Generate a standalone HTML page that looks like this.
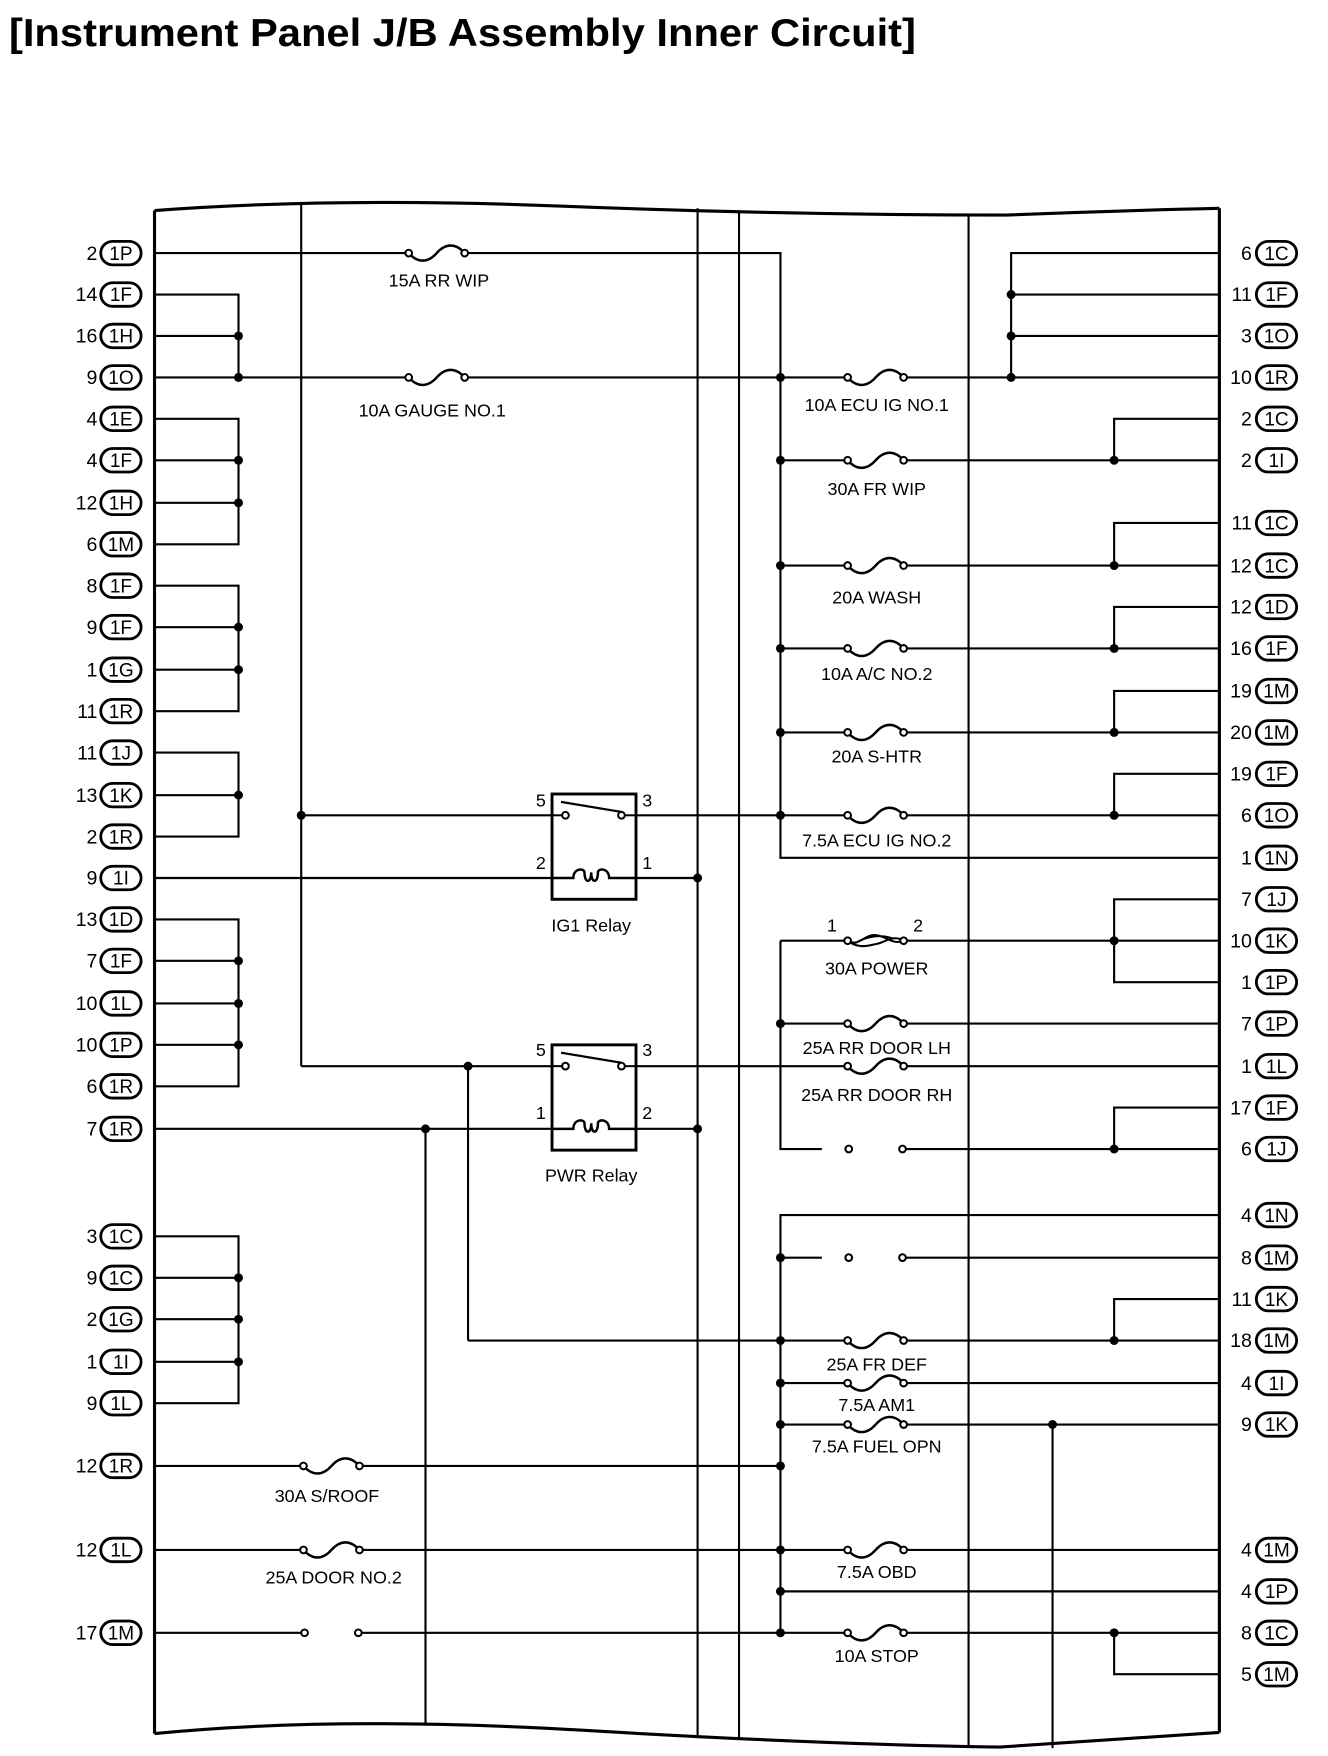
<!DOCTYPE html>
<html><head><meta charset="utf-8"><style>
html,body{margin:0;padding:0;background:#fff;}
svg{display:block;}
text{font-family:"Liberation Sans",sans-serif;fill:#000;}
.n{font-size:17.5px;text-anchor:end;}
.o{font-size:17px;text-anchor:middle;}
.l{font-size:16px;text-anchor:middle;}
</style></head><body>
<svg width="1328" height="1756" viewBox="0 0 1186 1568" preserveAspectRatio="none" xmlns="http://www.w3.org/2000/svg">
<defs>
<g id="fu"><rect x="-23" y="-3" width="46" height="6" fill="#fff"/><path d="M-25,0 C-17,9 -8,9 0,0 C8,-9 17,-9 25,0" fill="none" stroke="#000" stroke-width="2.2"/><circle cx="-25" cy="0" r="3" fill="#fff" stroke="#000" stroke-width="1.8"/><circle cx="25" cy="0" r="3" fill="#fff" stroke="#000" stroke-width="1.8"/></g>
<g id="fp"><rect x="-23" y="-4" width="46" height="8" fill="#fff"/><path d="M-25,0 C-15,6 -10,-6 0,-5 C10,-4 15,4 25,0 M-25,0 C-15,8 -5,4 0,3 C8,2 15,-6 25,0 M-18,2 C-8,-4 5,-6 15,-2" fill="none" stroke="#000" stroke-width="1.8"/><circle cx="-25" cy="0" r="3" fill="#fff" stroke="#000" stroke-width="1.8"/><circle cx="25" cy="0" r="3" fill="#fff" stroke="#000" stroke-width="1.8"/></g>
<g id="oc"><circle cx="-24" cy="0" r="3" fill="#fff" stroke="#000" stroke-width="1.8"/><circle cx="24" cy="0" r="3" fill="#fff" stroke="#000" stroke-width="1.8"/></g>
<g id="ov"><rect x="-18" y="-10.5" width="36" height="21" rx="10.5" fill="#fff" stroke="#000" stroke-width="2.5"/></g>
<g id="relay"><rect x="493" y="0" width="75" height="94" fill="#fff" stroke="#000" stroke-width="2.6"/>
<line x1="493" y1="19" x2="502" y2="19" stroke="#000" stroke-width="1.8"/><line x1="558" y1="19" x2="568" y2="19" stroke="#000" stroke-width="1.8"/>
<line x1="501" y1="7" x2="555" y2="16" stroke="#000" stroke-width="2"/>
<circle cx="505" cy="19" r="3" fill="#fff" stroke="#000" stroke-width="1.8"/><circle cx="555" cy="19" r="3" fill="#fff" stroke="#000" stroke-width="1.8"/>
<path d="M493,75 H512 C512,66 522,66 522,70 C522,80 528,80 528,70 C528,80 534,80 534,70 C534,66 544,66 544,75 H568" fill="none" stroke="#000" stroke-width="2.2"/></g>
</defs>
<rect width="1186" height="1568" fill="#fff"/>
<text x="8" y="41" font-size="35" font-weight="bold" textLength="810" lengthAdjust="spacingAndGlyphs">[Instrument Panel J/B Assembly Inner Circuit]</text>

<g stroke="#000" stroke-width="1.9" fill="none">
<path d="M138,188 Q 300,176 500,184 T 900,192 Q1000,188 1089,186" stroke-width="2.8"/>
<path d="M138,1548 Q 300,1532 520,1545 T 893,1560 Q 1000,1553 1089,1547" stroke-width="2.8"/>
<line x1="138" y1="188" x2="138" y2="1548" stroke-width="2.8"/>
<line x1="1089" y1="186" x2="1089" y2="1547" stroke-width="2.8"/>
<line x1="269" y1="182" x2="269" y2="952"/>
<line x1="623" y1="186" x2="623" y2="1551"/>
<line x1="660" y1="188" x2="660" y2="1553"/>
<line x1="865" y1="191" x2="865" y2="1559"/>
<line x1="380" y1="1008" x2="380" y2="1540"/>
<line x1="418" y1="952" x2="418" y2="1197"/>
<line x1="940" y1="1272" x2="940" y2="1561"/>

<path d="M138,263 H213 V337"/><line x1="138" y1="300" x2="213" y2="300"/>
<path d="M138,374 H213 V486 H138"/><line x1="138" y1="411" x2="213" y2="411"/><line x1="138" y1="449" x2="213" y2="449"/>
<path d="M138,523 H213 V635 H138"/><line x1="138" y1="560" x2="213" y2="560"/><line x1="138" y1="598" x2="213" y2="598"/>
<path d="M138,672 H213 V747 H138"/><line x1="138" y1="710" x2="213" y2="710"/>
<path d="M138,821 H213 V970 H138"/><line x1="138" y1="858" x2="213" y2="858"/><line x1="138" y1="896" x2="213" y2="896"/><line x1="138" y1="933" x2="213" y2="933"/>
<path d="M138,1104 H213 V1253 H138"/><line x1="138" y1="1141" x2="213" y2="1141"/><line x1="138" y1="1178" x2="213" y2="1178"/><line x1="138" y1="1216" x2="213" y2="1216"/>

<path d="M138,226 H697 V766 H1089"/>
<line x1="138" y1="337" x2="1089" y2="337"/>
<line x1="269" y1="728" x2="493" y2="728"/><line x1="568" y1="728" x2="1089" y2="728"/>
<line x1="138" y1="784" x2="493" y2="784"/><line x1="568" y1="784" x2="623" y2="784"/>
<line x1="269" y1="952" x2="493" y2="952"/><line x1="568" y1="952" x2="1089" y2="952"/>
<line x1="138" y1="1008" x2="493" y2="1008"/><line x1="568" y1="1008" x2="623" y2="1008"/>
<line x1="697" y1="411" x2="1089" y2="411"/>
<line x1="697" y1="505" x2="1089" y2="505"/>
<line x1="697" y1="579" x2="1089" y2="579"/>
<line x1="697" y1="654" x2="1089" y2="654"/>
<path d="M1089,226 H903 V337"/><line x1="903" y1="263" x2="1089" y2="263"/><line x1="903" y1="300" x2="1089" y2="300"/>
<path d="M1089,374 H995 V411"/>
<path d="M1089,467 H995 V505"/>
<path d="M1089,542 H995 V579"/>
<path d="M1089,617 H995 V654"/>
<path d="M1089,691 H995 V728"/>
<path d="M1089,803 H995 V877 H1089"/><line x1="697" y1="840" x2="1089" y2="840"/>
<path d="M1089,989 H995 V1026"/>
<path d="M1089,1160 H995 V1197"/>
<path d="M1089,1495 H995 V1458"/>
<path d="M697,840 V1026 H734"/><line x1="806" y1="1026" x2="1089" y2="1026"/>
<line x1="697" y1="914" x2="1089" y2="914"/>
<path d="M1089,1085 H697 V1458"/>
<line x1="697" y1="1123" x2="734" y2="1123"/><line x1="806" y1="1123" x2="1089" y2="1123"/>
<path d="M418,1197 H1089"/>
<line x1="697" y1="1235" x2="1089" y2="1235"/>
<line x1="697" y1="1272" x2="1089" y2="1272"/>
<line x1="138" y1="1309" x2="697" y2="1309"/>
<line x1="138" y1="1384" x2="1089" y2="1384"/>
<line x1="697" y1="1421" x2="1089" y2="1421"/>
<line x1="138" y1="1458" x2="270" y2="1458"/><line x1="322" y1="1458" x2="1089" y2="1458"/>
</g>

<use href="#relay" y="709"/>
<use href="#relay" y="933"/>

<use href="#fu" x="390" y="226"/>
<use href="#fu" x="390" y="337"/>
<use href="#fu" x="782" y="337"/>
<use href="#fu" x="782" y="411"/>
<use href="#fu" x="782" y="505"/>
<use href="#fu" x="782" y="579"/>
<use href="#fu" x="782" y="654"/>
<use href="#fu" x="782" y="728"/>
<use href="#fp" x="782" y="840"/>
<use href="#fu" x="782" y="914"/>
<use href="#fu" x="782" y="952"/>
<use href="#oc" x="782" y="1026"/>
<use href="#oc" x="782" y="1123"/>
<use href="#fu" x="782" y="1197"/>
<use href="#fu" x="782" y="1235"/>
<use href="#fu" x="782" y="1272"/>
<use href="#fu" x="296" y="1309"/>
<use href="#fu" x="296" y="1384"/>
<use href="#fu" x="782" y="1384"/>
<use href="#oc" x="296" y="1458"/>
<use href="#fu" x="782" y="1458"/>

<g fill="#000">
<circle cx="213" cy="300" r="4"/><circle cx="213" cy="337" r="4"/>
<circle cx="213" cy="411" r="4"/><circle cx="213" cy="449" r="4"/>
<circle cx="213" cy="560" r="4"/><circle cx="213" cy="598" r="4"/>
<circle cx="213" cy="710" r="4"/>
<circle cx="213" cy="858" r="4"/><circle cx="213" cy="896" r="4"/><circle cx="213" cy="933" r="4"/>
<circle cx="213" cy="1141" r="4"/><circle cx="213" cy="1178" r="4"/><circle cx="213" cy="1216" r="4"/>
<circle cx="269" cy="728" r="4"/><circle cx="623" cy="784" r="4"/><circle cx="623" cy="1008" r="4"/>
<circle cx="418" cy="952" r="4"/><circle cx="380" cy="1008" r="4"/>
<circle cx="697" cy="337" r="4"/><circle cx="697" cy="411" r="4"/><circle cx="697" cy="505" r="4"/><circle cx="697" cy="579" r="4"/><circle cx="697" cy="654" r="4"/><circle cx="697" cy="728" r="4"/>
<circle cx="697" cy="914" r="4"/>
<circle cx="697" cy="1123" r="4"/><circle cx="697" cy="1197" r="4"/><circle cx="697" cy="1235" r="4"/><circle cx="697" cy="1272" r="4"/><circle cx="697" cy="1309" r="4"/><circle cx="697" cy="1384" r="4"/><circle cx="697" cy="1421" r="4"/><circle cx="697" cy="1458" r="4"/>
<circle cx="903" cy="263" r="4"/><circle cx="903" cy="300" r="4"/><circle cx="903" cy="337" r="4"/>
<circle cx="995" cy="411" r="4"/><circle cx="995" cy="505" r="4"/><circle cx="995" cy="579" r="4"/><circle cx="995" cy="654" r="4"/><circle cx="995" cy="728" r="4"/>
<circle cx="995" cy="840" r="4"/><circle cx="995" cy="1026" r="4"/><circle cx="995" cy="1197" r="4"/><circle cx="995" cy="1458" r="4"/>
<circle cx="940" cy="1272" r="4"/>
</g>

<g>
<text class="l" x="392" y="256">15A RR WIP</text>
<text class="l" x="386" y="372">10A GAUGE NO.1</text>
<text class="l" x="783" y="367">10A ECU IG NO.1</text>
<text class="l" x="783" y="442">30A FR WIP</text>
<text class="l" x="783" y="539">20A WASH</text>
<text class="l" x="783" y="607">10A A/C NO.2</text>
<text class="l" x="783" y="681">20A S-HTR</text>
<text class="l" x="783" y="756">7.5A ECU IG NO.2</text>
<text class="l" x="783" y="870">30A POWER</text>
<text class="l" x="743" y="832">1</text><text class="l" x="820" y="832">2</text>
<text class="l" x="783" y="941">25A RR DOOR LH</text>
<text class="l" x="783" y="983">25A RR DOOR RH</text>
<text class="l" x="783" y="1224">25A FR DEF</text>
<text class="l" x="783" y="1260">7.5A AM1</text>
<text class="l" x="783" y="1297">7.5A FUEL OPN</text>
<text class="l" x="783" y="1409">7.5A OBD</text>
<text class="l" x="783" y="1484">10A STOP</text>
<text class="l" x="292" y="1341">30A S/ROOF</text>
<text class="l" x="298" y="1414">25A DOOR NO.2</text>
<text class="l" x="528" y="832">IG1 Relay</text>
<text class="l" x="528" y="1055">PWR Relay</text>
<text class="l" x="483" y="720">5</text><text class="l" x="578" y="720">3</text>
<text class="l" x="483" y="776">2</text><text class="l" x="578" y="776">1</text>
<text class="l" x="483" y="943">5</text><text class="l" x="578" y="943">3</text>
<text class="l" x="483" y="999">1</text><text class="l" x="578" y="999">2</text>
</g>

<g>
<use href="#ov" x="108" y="226"/><text class="n" x="87" y="232">2</text><text class="o" x="108" y="232">1P</text>
<use href="#ov" x="108" y="263"/><text class="n" x="87" y="269">14</text><text class="o" x="108" y="269">1F</text>
<use href="#ov" x="108" y="300"/><text class="n" x="87" y="306">16</text><text class="o" x="108" y="306">1H</text>
<use href="#ov" x="108" y="337"/><text class="n" x="87" y="343">9</text><text class="o" x="108" y="343">1O</text>
<use href="#ov" x="108" y="374"/><text class="n" x="87" y="380">4</text><text class="o" x="108" y="380">1E</text>
<use href="#ov" x="108" y="411"/><text class="n" x="87" y="417">4</text><text class="o" x="108" y="417">1F</text>
<use href="#ov" x="108" y="449"/><text class="n" x="87" y="455">12</text><text class="o" x="108" y="455">1H</text>
<use href="#ov" x="108" y="486"/><text class="n" x="87" y="492">6</text><text class="o" x="108" y="492">1M</text>
<use href="#ov" x="108" y="523"/><text class="n" x="87" y="529">8</text><text class="o" x="108" y="529">1F</text>
<use href="#ov" x="108" y="560"/><text class="n" x="87" y="566">9</text><text class="o" x="108" y="566">1F</text>
<use href="#ov" x="108" y="598"/><text class="n" x="87" y="604">1</text><text class="o" x="108" y="604">1G</text>
<use href="#ov" x="108" y="635"/><text class="n" x="87" y="641">11</text><text class="o" x="108" y="641">1R</text>
<use href="#ov" x="108" y="672"/><text class="n" x="87" y="678">11</text><text class="o" x="108" y="678">1J</text>
<use href="#ov" x="108" y="710"/><text class="n" x="87" y="716">13</text><text class="o" x="108" y="716">1K</text>
<use href="#ov" x="108" y="747"/><text class="n" x="87" y="753">2</text><text class="o" x="108" y="753">1R</text>
<use href="#ov" x="108" y="784"/><text class="n" x="87" y="790">9</text><text class="o" x="108" y="790">1I</text>
<use href="#ov" x="108" y="821"/><text class="n" x="87" y="827">13</text><text class="o" x="108" y="827">1D</text>
<use href="#ov" x="108" y="858"/><text class="n" x="87" y="864">7</text><text class="o" x="108" y="864">1F</text>
<use href="#ov" x="108" y="896"/><text class="n" x="87" y="902">10</text><text class="o" x="108" y="902">1L</text>
<use href="#ov" x="108" y="933"/><text class="n" x="87" y="939">10</text><text class="o" x="108" y="939">1P</text>
<use href="#ov" x="108" y="970"/><text class="n" x="87" y="976">6</text><text class="o" x="108" y="976">1R</text>
<use href="#ov" x="108" y="1008"/><text class="n" x="87" y="1014">7</text><text class="o" x="108" y="1014">1R</text>
<use href="#ov" x="108" y="1104"/><text class="n" x="87" y="1110">3</text><text class="o" x="108" y="1110">1C</text>
<use href="#ov" x="108" y="1141"/><text class="n" x="87" y="1147">9</text><text class="o" x="108" y="1147">1C</text>
<use href="#ov" x="108" y="1178"/><text class="n" x="87" y="1184">2</text><text class="o" x="108" y="1184">1G</text>
<use href="#ov" x="108" y="1216"/><text class="n" x="87" y="1222">1</text><text class="o" x="108" y="1222">1I</text>
<use href="#ov" x="108" y="1253"/><text class="n" x="87" y="1259">9</text><text class="o" x="108" y="1259">1L</text>
<use href="#ov" x="108" y="1309"/><text class="n" x="87" y="1315">12</text><text class="o" x="108" y="1315">1R</text>
<use href="#ov" x="108" y="1384"/><text class="n" x="87" y="1390">12</text><text class="o" x="108" y="1390">1L</text>
<use href="#ov" x="108" y="1458"/><text class="n" x="87" y="1464">17</text><text class="o" x="108" y="1464">1M</text>
</g>

<g>
<use href="#ov" x="1140" y="226"/><text class="n" x="1118" y="232">6</text><text class="o" x="1140" y="232">1C</text>
<use href="#ov" x="1140" y="263"/><text class="n" x="1118" y="269">11</text><text class="o" x="1140" y="269">1F</text>
<use href="#ov" x="1140" y="300"/><text class="n" x="1118" y="306">3</text><text class="o" x="1140" y="306">1O</text>
<use href="#ov" x="1140" y="337"/><text class="n" x="1118" y="343">10</text><text class="o" x="1140" y="343">1R</text>
<use href="#ov" x="1140" y="374"/><text class="n" x="1118" y="380">2</text><text class="o" x="1140" y="380">1C</text>
<use href="#ov" x="1140" y="411"/><text class="n" x="1118" y="417">2</text><text class="o" x="1140" y="417">1I</text>
<use href="#ov" x="1140" y="467"/><text class="n" x="1118" y="473">11</text><text class="o" x="1140" y="473">1C</text>
<use href="#ov" x="1140" y="505"/><text class="n" x="1118" y="511">12</text><text class="o" x="1140" y="511">1C</text>
<use href="#ov" x="1140" y="542"/><text class="n" x="1118" y="548">12</text><text class="o" x="1140" y="548">1D</text>
<use href="#ov" x="1140" y="579"/><text class="n" x="1118" y="585">16</text><text class="o" x="1140" y="585">1F</text>
<use href="#ov" x="1140" y="617"/><text class="n" x="1118" y="623">19</text><text class="o" x="1140" y="623">1M</text>
<use href="#ov" x="1140" y="654"/><text class="n" x="1118" y="660">20</text><text class="o" x="1140" y="660">1M</text>
<use href="#ov" x="1140" y="691"/><text class="n" x="1118" y="697">19</text><text class="o" x="1140" y="697">1F</text>
<use href="#ov" x="1140" y="728"/><text class="n" x="1118" y="734">6</text><text class="o" x="1140" y="734">1O</text>
<use href="#ov" x="1140" y="766"/><text class="n" x="1118" y="772">1</text><text class="o" x="1140" y="772">1N</text>
<use href="#ov" x="1140" y="803"/><text class="n" x="1118" y="809">7</text><text class="o" x="1140" y="809">1J</text>
<use href="#ov" x="1140" y="840"/><text class="n" x="1118" y="846">10</text><text class="o" x="1140" y="846">1K</text>
<use href="#ov" x="1140" y="877"/><text class="n" x="1118" y="883">1</text><text class="o" x="1140" y="883">1P</text>
<use href="#ov" x="1140" y="914"/><text class="n" x="1118" y="920">7</text><text class="o" x="1140" y="920">1P</text>
<use href="#ov" x="1140" y="952"/><text class="n" x="1118" y="958">1</text><text class="o" x="1140" y="958">1L</text>
<use href="#ov" x="1140" y="989"/><text class="n" x="1118" y="995">17</text><text class="o" x="1140" y="995">1F</text>
<use href="#ov" x="1140" y="1026"/><text class="n" x="1118" y="1032">6</text><text class="o" x="1140" y="1032">1J</text>
<use href="#ov" x="1140" y="1085"/><text class="n" x="1118" y="1091">4</text><text class="o" x="1140" y="1091">1N</text>
<use href="#ov" x="1140" y="1123"/><text class="n" x="1118" y="1129">8</text><text class="o" x="1140" y="1129">1M</text>
<use href="#ov" x="1140" y="1160"/><text class="n" x="1118" y="1166">11</text><text class="o" x="1140" y="1166">1K</text>
<use href="#ov" x="1140" y="1197"/><text class="n" x="1118" y="1203">18</text><text class="o" x="1140" y="1203">1M</text>
<use href="#ov" x="1140" y="1235"/><text class="n" x="1118" y="1241">4</text><text class="o" x="1140" y="1241">1I</text>
<use href="#ov" x="1140" y="1272"/><text class="n" x="1118" y="1278">9</text><text class="o" x="1140" y="1278">1K</text>
<use href="#ov" x="1140" y="1384"/><text class="n" x="1118" y="1390">4</text><text class="o" x="1140" y="1390">1M</text>
<use href="#ov" x="1140" y="1421"/><text class="n" x="1118" y="1427">4</text><text class="o" x="1140" y="1427">1P</text>
<use href="#ov" x="1140" y="1458"/><text class="n" x="1118" y="1464">8</text><text class="o" x="1140" y="1464">1C</text>
<use href="#ov" x="1140" y="1495"/><text class="n" x="1118" y="1501">5</text><text class="o" x="1140" y="1501">1M</text>
</g>
</svg>
</body></html>
